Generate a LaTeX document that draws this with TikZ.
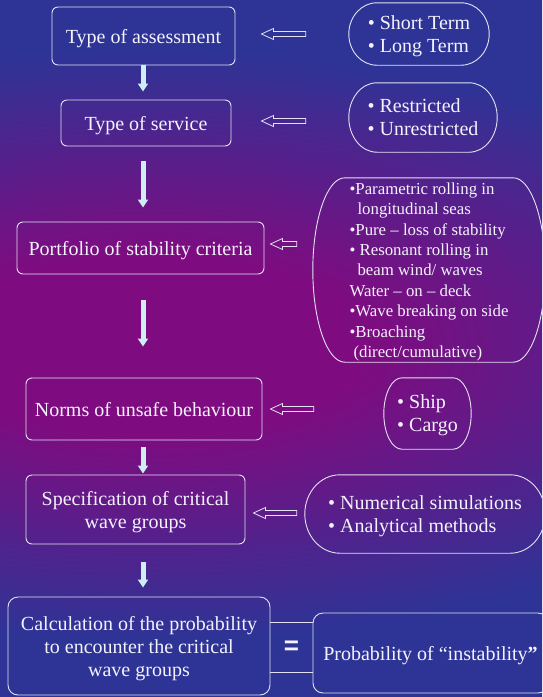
\documentclass[tikz,border=0pt]{standalone}
\usepackage{fontspec}
\setmainfont{Liberation Serif}
\newfontfamily\tnr{Liberation Serif}
\newfontfamily\eqfont{Liberation Sans}
\usetikzlibrary{arrows.meta,calc}
\definecolor{bgblue}{RGB}{45,52,150}
\definecolor{bgmag}{RGB}{126,12,128}
\definecolor{edgec}{RGB}{228,226,242}
\definecolor{txt}{RGB}{244,242,252}
\definecolor{arrowc}{RGB}{205,238,242}
\pgfdeclareradialshading{bgshade}{\pgfpoint{0bp}{0bp}}{color(0bp)=(bgmag); color(5.5bp)=(bgmag); color(18bp)=(bgblue); color(25bp)=(bgblue); color(50bp)=(bgblue)}
\begin{document}
\begin{tikzpicture}[x=1pt,y=-1pt,
  box/.style={draw=edgec, line width=0.9pt, rounded corners=6pt, text=txt, inner sep=0pt,
    text depth=0pt, align=center, font=\tnr\fontsize{20}{23}\selectfont},
  framed/.style={inner sep=0pt, text=txt, text depth=0pt, align=left,
    font=\tnr\fontsize{20}{23}\selectfont},
  pill/.style={draw=edgec, line width=0.9pt, to path={let \p1=(\tikztostart), \p2=(\tikztotarget),
    \n1={(\y1-\y2)/2} in (\x1+#1,\y1) -- (\x2-#1,\y1)
    arc[start angle=90, end angle=-90, x radius=#1, y radius=\n1] -- (\x1+#1,\y2)
    arc[start angle=270, end angle=90, x radius=#1, y radius=\n1] -- cycle}},
  hollow/.style n args={3}{draw=edgec, line width=0.8pt, to path={let \p1=(\tikztostart), \p2=(\tikztotarget) in
    (\x1-#1,\y2+#3+2.5pt) -- (\x2+#2+12pt,\y2+#3+2.5pt) -- (\x2+#2+12pt,\y2+#3+5.5pt)
    -- (\x2+#2,\y2+#3) -- (\x2+#2+12pt,\y2+#3-5.5pt) -- (\x2+#2+12pt,\y2+#3-2.5pt)
    -- (\x1-#1,\y2+#3-2.5pt) -- cycle}},
  varrow/.style={draw=arrowc, line width=5pt, -{Triangle[width=10pt,length=8pt]}},
  eqline/.style={draw=edgec, line width=0.9pt}
]
\useasboundingbox (0,0) rectangle (542,697);
\fill[bgblue] (0,0) rectangle (542,697);
\begin{scope}
  \clip (0,0) rectangle (542,697);
  \shade[shading=bgshade] (150,345) ellipse [x radius=980pt, y radius=410pt];
\end{scope}

% main column
\node[box, minimum width=183pt, minimum height=58pt] (b1) at (143.5,36) {Type of assessment};
\node[box, minimum width=170pt, minimum height=46pt] (b2) at (146,123) {Type of service};
\node[box, minimum width=247pt, minimum height=52pt] (b3) at (140.5,248) {Portfolio of stability criteria};
\node[box, minimum width=236pt, minimum height=62pt] (b4) at (144,409) {Norms of unsafe behaviour};
\node[box, minimum width=219pt, minimum height=69pt] (b5) at (135.5,509.5) {Specification of critical\\wave groups};
\node[box, rounded corners=10pt, minimum width=262pt, minimum height=98pt] (b6) at (139,646) {Calculation of the probability\\to encounter the critical\\wave groups};
\node[box, rounded corners=10pt, minimum width=235pt, minimum height=80pt] (b7) at (430.5,653) {Probability of “instability\textbf{”}};
\node[inner sep=0pt, minimum width=43pt, minimum height=49pt, text=txt,
  font=\eqfont\fontsize{26}{26}\selectfont\bfseries] (eq) at (291.5,647.5) {=};
\draw[eqline] (eq.north west) -- (eq.north east);
\draw[eqline] (eq.south west) -- (eq.south east);

% right-hand notes
\node[framed, minimum width=140pt, minimum height=62pt] (s1) at (419,34) {• Short Term\\• Long Term};
\node[framed, minimum width=148pt, minimum height=69pt] (s2) at (423,117.5) {• Restricted\\• Unrestricted};
\node[framed, minimum width=232pt, minimum height=184pt, font=\tnr\fontsize{16.8}{20.4}\selectfont] (s3) at (429,270)
  {•Parametric rolling in\\\hspace*{8pt}longitudinal seas\\•Pure – loss of stability\\• Resonant rolling in\\\hspace*{8pt}beam wind/ waves\\Water – on – deck\\•Wave breaking on side\\•Broaching\\\hspace*{4pt}(direct/cumulative)};
\node[framed, minimum width=87pt, minimum height=71pt] (s4) at (427.5,413.5) {• Ship\\• Cargo};
\node[framed, minimum width=240pt, minimum height=78pt] (s5) at (425,514) {• Numerical simulations\\• Analytical methods};

\draw[pill=28pt] (s1.north west) to (s1.south east);
\draw[pill=28pt] (s2.north west) to (s2.south east);
\draw[pill=32pt] (s3.north west) to (s3.south east);
\draw[pill=18pt] (s4.north west) to (s4.south east);
\draw[pill=35pt] (s5.north west) to (s5.south east);

% hollow arrows
\draw[hollow={43pt}{26pt}{2pt}] (s1.west) to (b1.east);
\draw[hollow={43pt}{30pt}{2pt}] (s2.west) to (b2.east);
\draw[hollow={16pt}{6pt}{4pt}] (s3.west) to (b3.east);
\draw[hollow={70pt}{8pt}{0pt}] (s4.west) to (b4.east);
\draw[hollow={8pt}{8pt}{-3.5pt}] (s5.west) to (b5.east);

% vertical arrows
\coordinate (ax) at (143,0);
\draw[varrow, shorten >=8pt] (b1.south -| ax) -- (b2.north -| ax);
\draw[varrow, shorten <=15pt, shorten >=14pt] (b2.south -| ax) -- (b3.north -| ax);
\draw[varrow, shorten <=26pt, shorten >=31pt] (b3.south -| ax) -- (b4.north -| ax);
\draw[varrow, shorten <=7pt, shorten >=1pt] (b4.south -| ax) -- (b5.north -| ax);
\draw[varrow, shorten <=18pt, shorten >=9pt] (b5.south -| ax) -- (b6.north -| ax);
\end{tikzpicture}
\end{document}
